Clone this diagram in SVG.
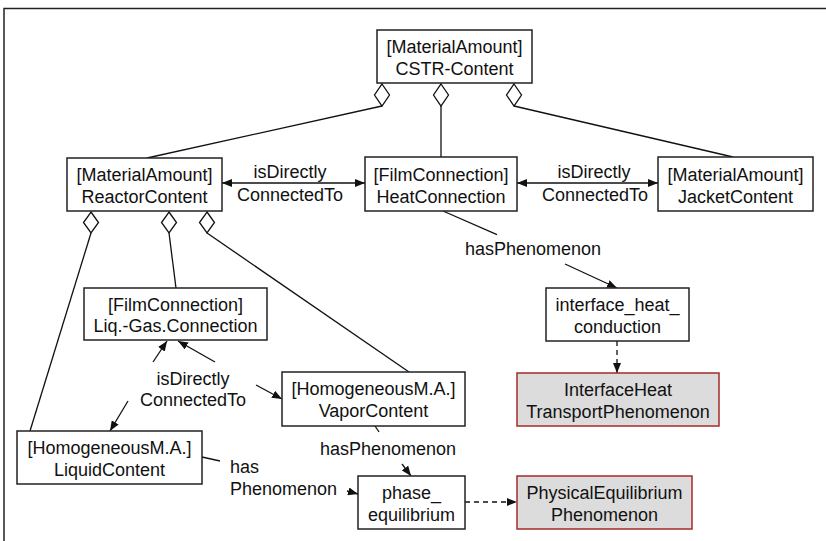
<svg xmlns="http://www.w3.org/2000/svg" width="826" height="541" viewBox="0 0 826 541">
<style>
text{font-family:"Liberation Sans",Arial,sans-serif;font-size:18px;fill:#111;text-anchor:middle}
.box{fill:#fff;stroke:#222;stroke-width:1.5}
.gbox{fill:#dcdcdc;stroke:#a52a2a;stroke-width:1.5}
.ln{fill:none;stroke:#111;stroke-width:1.3}
.dash{stroke-dasharray:5,4}
.dia{fill:#fff;stroke:#111;stroke-width:1.3}
.la{text-anchor:start}
</style>
<defs>
<marker id="ah" viewBox="0 0 10 8" refX="10" refY="4" markerWidth="10" markerHeight="8" markerUnits="userSpaceOnUse" orient="auto-start-reverse">
<path d="M0,0 L10,4 L0,8 z" fill="#111"/>
</marker>
</defs>
<rect width="826" height="541" fill="#fff"/>
<path d="M4,541 V8.5 H826" fill="none" stroke="#222" stroke-width="1.5"/>

<g id="connectors">
<line class="ln" x1="382" y1="106" x2="147" y2="158"/>
<line class="ln" x1="441" y1="106" x2="441" y2="157"/>
<line class="ln" x1="514" y1="106" x2="733" y2="157"/>
<line class="ln" x1="222" y1="183" x2="365" y2="183" marker-start="url(#ah)" marker-end="url(#ah)"/>
<line class="ln" x1="517" y1="183" x2="658" y2="183" marker-start="url(#ah)" marker-end="url(#ah)"/>
<line class="ln" x1="443" y1="211" x2="497" y2="234.6"/>
<line class="ln" x1="565" y1="264" x2="617" y2="288" marker-end="url(#ah)"/>
<line class="ln dash" x1="617" y1="341" x2="617" y2="373" marker-end="url(#ah)"/>
<line class="ln" x1="91" y1="233" x2="30" y2="431"/>
<line class="ln" x1="169" y1="233" x2="176" y2="288"/>
<line class="ln" x1="207" y1="233" x2="409" y2="372"/>
<line class="ln" x1="153" y1="362" x2="167" y2="341" marker-end="url(#ah)"/>
<line class="ln" x1="128" y1="401" x2="110" y2="431" marker-end="url(#ah)"/>
<line class="ln" x1="215" y1="362" x2="178" y2="341" marker-end="url(#ah)"/>
<line class="ln" x1="256" y1="385" x2="282" y2="399" marker-end="url(#ah)"/>
<line class="ln" x1="375" y1="426" x2="379" y2="432"/>
<line class="ln" x1="402" y1="464" x2="411" y2="476" marker-end="url(#ah)"/>
<line class="ln" x1="202" y1="457" x2="220" y2="461"/>
<line class="ln" x1="347" y1="491" x2="358" y2="494" marker-end="url(#ah)"/>
<line class="ln dash" x1="465" y1="502" x2="517" y2="502" marker-end="url(#ah)"/>
<text x="290" y="178">isDirectly</text>
<text x="290" y="201">ConnectedTo</text>
<text x="594" y="178">isDirectly</text>
<text x="595" y="201">ConnectedTo</text>
<text x="533" y="255">hasPhenomenon</text>
<text x="193" y="385">isDirectly</text>
<text x="193" y="406">ConnectedTo</text>
<text x="388" y="455">hasPhenomenon</text>
<text class="la" x="230" y="473">has</text>
<text class="la" x="230" y="495">Phenomenon</text>
</g>

<g id="cstr">
<rect class="box" x="377" y="30" width="155" height="53"/>
<text x="454.5" y="53">[MaterialAmount]</text>
<text x="454.5" y="75">CSTR-Content</text>
<polygon class="dia" points="382,84 389.5,95 382,106 374.5,95"/>
<polygon class="dia" points="441,84 448.5,95 441,106 433.5,95"/>
<polygon class="dia" points="514,84 521.5,95 514,106 506.5,95"/>
</g>

<g id="reactor">
<rect class="box" x="67" y="158" width="155" height="53"/>
<text x="144.5" y="181">[MaterialAmount]</text>
<text x="144.5" y="203">ReactorContent</text>
<polygon class="dia" points="91,212 98.5,222.5 91,233 83.5,222.5"/>
<polygon class="dia" points="169,212 176.5,222.5 169,233 161.5,222.5"/>
<polygon class="dia" points="207,212 214.5,222.5 207,233 199.5,222.5"/>
</g>

<g id="heatconnection">
<rect class="box" x="365" y="157" width="152" height="54"/>
<text x="441" y="181">[FilmConnection]</text>
<text x="441" y="203">HeatConnection</text>
</g>

<g id="jacket">
<rect class="box" x="658" y="157" width="155" height="54"/>
<text x="735.5" y="181">[MaterialAmount]</text>
<text x="735.5" y="203">JacketContent</text>
</g>

<g id="liqgas">
<rect class="box" x="84" y="288" width="183" height="52"/>
<text x="175.5" y="311">[FilmConnection]</text>
<text x="175.5" y="332">Liq.-Gas.Connection</text>
</g>

<g id="vapor">
<rect class="box" x="282" y="372" width="183" height="54"/>
<text x="373.5" y="395">[HomogeneousM.A.]</text>
<text x="373.5" y="417">VaporContent</text>
</g>

<g id="liquid">
<rect class="box" x="17" y="431" width="185" height="53"/>
<text x="109.5" y="454">[HomogeneousM.A.]</text>
<text x="109.5" y="476">LiquidContent</text>
</g>

<g id="ihc">
<rect class="box" x="546" y="288" width="143" height="53"/>
<text x="617.5" y="311">interface_heat_</text>
<text x="617.5" y="333">conduction</text>
</g>

<g id="ihtp">
<rect class="gbox" x="517" y="373" width="202" height="53"/>
<text x="618" y="396">InterfaceHeat</text>
<text x="618" y="418">TransportPhenomenon</text>
</g>

<g id="phase">
<rect class="box" x="358" y="476" width="107" height="53"/>
<text x="411.5" y="499">phase_</text>
<text x="411.5" y="521">equilibrium</text>
</g>

<g id="pep">
<rect class="gbox" x="517" y="476" width="175" height="53"/>
<text x="604.5" y="499">PhysicalEquilibrium</text>
<text x="604.5" y="521">Phenomenon</text>
</g>
</svg>
